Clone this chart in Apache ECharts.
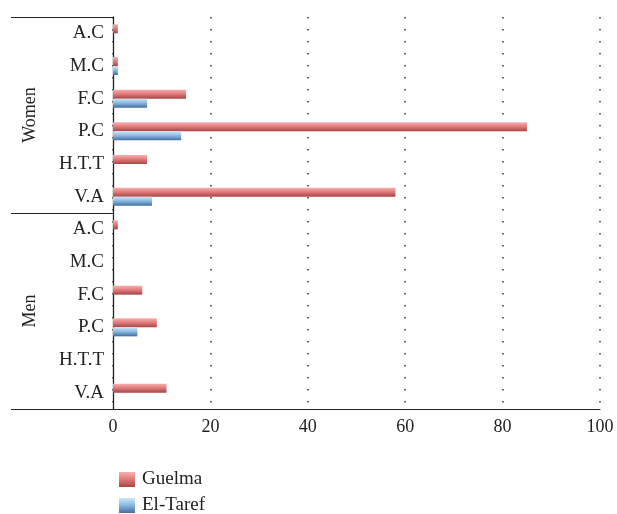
<!DOCTYPE html>
<html>
<head>
<meta charset="utf-8">
<script src="https://cdn.jsdelivr.net/npm/echarts@6/dist/echarts.min.js"></script>
<style>
  html, body { margin: 0; padding: 0; background: #fff; }
</style>
</head>
<body>
<div id="main" style="width: 617px; height: 514px;"></div>
<script>
// categories, top to bottom
const categories = ['A.C', 'M.C', 'F.C', 'P.C', 'H.T.T', 'V.A', 'A.C ', 'M.C ', 'F.C ', 'P.C ', 'H.T.T ', 'V.A '];
const groups = ['Women', 'Men'];
const guelma = [1, 1, 15, 85, 7, 58, 1, 0, 6, 9, 0, 11];
const elTaref = [0, 1, 7, 14, 0, 8, 0, 0, 0, 5, 0, 0];
const xTicks = [0, 20, 40, 60, 80, 100];

const font = 'Liberation Serif';

function grad(top, mid, bottom) {
  return new echarts.graphic.LinearGradient(0, 0, 0, 1, [
    {offset: 0, color: top},
    {offset: 0.45, color: mid},
    {offset: 1, color: bottom}
  ]);
}

let myChart = echarts.init(document.getElementById('main'));

const legendCommon = {
  orient: 'vertical',
  left: 114,
  itemWidth: 16,
  itemHeight: 15,
  icon: 'rect',
  textStyle: {fontFamily: font, fontSize: 19, color: '#222', padding: [0, 0, 0, 2]}
};

let option = {
  animation: false,
  textStyle: {fontFamily: font},
  grid: {left: 113, right: 17, top: 17, bottom: 105},
  legend: [
    Object.assign({top: 465, data: ['Guelma']}, legendCommon),
    Object.assign({top: 491, data: ['El-Taref']}, legendCommon)
  ],
  xAxis: {
    type: 'value',
    min: xTicks[0],
    max: xTicks[xTicks.length - 1],
    interval: 20,
    axisLine: {show: true, lineStyle: {color: '#222', width: 1}},
    axisTick: {show: false},
    axisLabel: {fontFamily: font, fontSize: 18, color: '#222', margin: 9},
    splitLine: {show: true, lineStyle: {color: '#333', type: [1.5, 10.5], width: 1.5}}
  },
  yAxis: [
    {
      type: 'category',
      inverse: true,
      data: categories,
      axisLine: {show: true, lineStyle: {color: '#222', width: 1.3}},
      axisTick: {show: false},
      axisLabel: {
        fontFamily: font, fontSize: 19, color: '#222', margin: 9,
        formatter: v => v.trim()
      }
    },
    {
      type: 'category',
      inverse: true,
      position: 'left',
      data: groups,
      axisLine: {show: false},
      axisTick: {show: true, length: 102, lineStyle: {color: '#222', width: 1}},
      axisLabel: {fontFamily: font, fontSize: 18, color: '#222', rotate: 90, margin: 74}
    }
  ],
  series: [
    {
      name: 'Guelma',
      type: 'bar',
      yAxisIndex: 0,
      barWidth: 9,
      barGap: '0%',
      data: guelma,
      itemStyle: {color: grad('#f7b0b0', '#e27d7d', '#a94444')}
    },
    {
      name: 'El-Taref',
      type: 'bar',
      yAxisIndex: 0,
      barWidth: 9,
      barGap: '0%',
      data: elTaref,
      itemStyle: {color: grad('#cfe6f8', '#8fbbe2', '#3f6ea3')}
    }
  ]
};

myChart.setOption(option);
</script>
</body>
</html>
